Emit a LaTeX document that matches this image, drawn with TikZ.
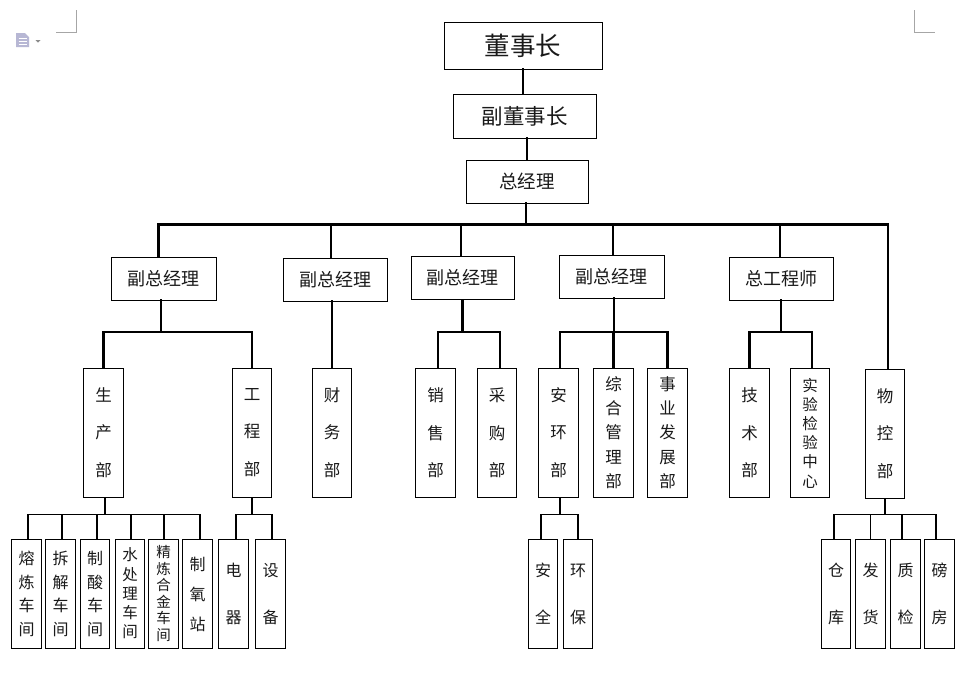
\documentclass[tikz,border=0pt]{standalone}
\usepackage{fontspec}
\setmainfont{Noto Sans CJK SC}
\begin{document}
\begin{tikzpicture}[x=1pt,y=-1pt,
  box/.style={draw, line width=1pt, inner sep=0pt, align=center, text=black!90},
  topbox/.style={box, minimum width=#1, minimum height=43pt, font=\fontsize{18}{18}\selectfont},
  dept/.style={box, minimum width=39.5pt, minimum height=129pt},
  leaf/.style={box, minimum width=29.5pt, minimum height=109pt},
  main/.style={line width=2.3pt, line cap=rect},
  thin/.style={line width=1.3pt, line cap=rect},
  cornermark/.style={draw=black!35, line width=0.8pt}
]
\useasboundingbox (0,0) rectangle (976,673);
\fill[white] (0,0) rectangle (976,673);

% page corner marks and icon
\draw[cornermark] (76,10) -- (76,32) -- (56,32);
\draw[cornermark] (914,10) -- (914,32) -- (935,32);
\fill[blue!25!gray!45] (16,33) -- (25,33) -- (29,37) -- (29,47) -- (16,47) -- cycle;
\draw[white, line width=0.8pt] (18.5,38) -- (26.5,38) (18.5,41) -- (26.5,41) (18.5,44) -- (26.5,44);
\fill[black!45] (35.5,40) -- (40.5,40) -- (38,42.5) -- cycle;

\coordinate (y1) at (0,224.5);
\coordinate (y2) at (0,332);
\coordinate (y3) at (0,514.5);

% top
\node[box, minimum width=158pt, minimum height=47pt, font=\fontsize{25.5}{25.5}\selectfont] (dsz) at (523,45.5) {董事长};
\node[box, minimum width=143pt, minimum height=44pt, font=\fontsize{21.5}{21.5}\selectfont] (fdsz) at (524.5,116) {副董事长};
\node[box, minimum width=122pt, minimum height=43pt, font=\fontsize{18.5}{18.5}\selectfont] (zjl) at (527,181.5) {总经理};

% level 2
\node[topbox=105pt] (v1) at (163.5,278.5) {副总经理};
\node[topbox=104pt] (v2) at (335,279.5) {副总经理};
\node[topbox=103pt] (v3) at (462.5,278) {副总经理};
\node[topbox=105pt] (v4) at (611.5,276.5) {副总经理};
\node[topbox=104pt] (zgc) at (781,278.5) {总工程师};

% departments
\node[dept, font=\fontsize{16.5}{37.5}\selectfont] (scb) at (103.5,432.5) {生\\产\\部};
\node[dept, font=\fontsize{16.5}{37.5}\selectfont] (gcb) at (252,432.5) {工\\程\\部};
\node[dept, font=\fontsize{16.5}{37.5}\selectfont] (cwb) at (332,432.5) {财\\务\\部};
\node[dept, font=\fontsize{16.5}{37.5}\selectfont] (xsb) at (435.5,433) {销\\售\\部};
\node[dept, font=\fontsize{16.5}{37.5}\selectfont] (cgb) at (497,433) {采\\购\\部};
\node[dept, font=\fontsize{16.5}{37.5}\selectfont] (ahb) at (558.5,432.5) {安\\环\\部};
\node[dept, font=\fontsize{16.5}{24.3}\selectfont] (zhb) at (613.5,432.5) {综\\合\\管\\理\\部};
\node[dept, font=\fontsize{16.5}{24.3}\selectfont] (syb) at (667.5,432.5) {事\\业\\发\\展\\部};
\node[dept, font=\fontsize{16.5}{37.5}\selectfont] (jsb) at (749.5,433) {技\\术\\部};
\node[dept, font=\fontsize{15.5}{19.2}\selectfont] (syz) at (810,433) {实\\验\\检\\验\\中\\心};
\node[dept, font=\fontsize{16.5}{37.5}\selectfont] (wkb) at (885,433.5) {物\\控\\部};

% leaves
\node[leaf, font=\fontsize{16}{23.5}\selectfont] (rl) at (26.5,594) {熔\\炼\\车\\间};
\node[leaf, font=\fontsize{16}{23.5}\selectfont] (cj) at (60.5,594) {拆\\解\\车\\间};
\node[leaf, font=\fontsize{16}{23.5}\selectfont] (zs) at (95,594) {制\\酸\\车\\间};
\node[leaf, font=\fontsize{15.5}{19.3}\selectfont] (scl) at (130,593.5) {水\\处\\理\\车\\间};
\node[leaf, font=\fontsize{14.5}{16.6}\selectfont] (jl) at (163.5,593.5) {精\\炼\\合\\金\\车\\间};
\node[leaf, font=\fontsize{16}{30}\selectfont] (zy) at (197.5,594) {制\\氧\\站};
\node[leaf, font=\fontsize{16}{47}\selectfont] (dq) at (233.5,594) {电\\器};
\node[leaf, font=\fontsize{16}{47}\selectfont] (sb) at (270.5,594) {设\\备};
\node[leaf, font=\fontsize{16}{47}\selectfont] (aq) at (543,594) {安\\全};
\node[leaf, font=\fontsize{16}{47}\selectfont] (hb) at (578,594) {环\\保};
\node[leaf, font=\fontsize{16}{47}\selectfont] (ck) at (836,594) {仓\\库};
\node[leaf, font=\fontsize{16}{47}\selectfont] (fh) at (870.5,594) {发\\货};
\node[leaf, font=\fontsize{16}{47}\selectfont] (zj) at (905.5,594) {质\\检};
\node[leaf, font=\fontsize{16}{47}\selectfont] (bf) at (939.5,593.5) {磅\\房};

% top chain
\draw[main] (dsz.south) -- (dsz.south |- fdsz.north);
\draw[main] ([xshift=2.5pt]fdsz.south) -- ([xshift=2.5pt]fdsz.south |- zjl.north);
\draw[main] ([xshift=-1pt]zjl.south) -- ([xshift=-1pt]zjl.south |- y1);

% bus
\draw[main] ([xshift=-5pt]v1.north) -- ([xshift=-5pt]v1.north |- y1) -- ([xshift=3pt]wkb.north |- y1) -- ([xshift=3pt]wkb.north);
\draw[main] ([xshift=-4pt]v2.north |- y1) -- ([xshift=-4pt]v2.north);
\draw[main] ([xshift=-1.5pt]v3.north |- y1) -- ([xshift=-1.5pt]v3.north);
\draw[main] ([xshift=1.5pt]v4.north |- y1) -- ([xshift=1.5pt]v4.north);
\draw[main] ([xshift=-1pt]zgc.north |- y1) -- ([xshift=-1pt]zgc.north);

% level 2 to departments
\draw[main] ([xshift=-2.5pt]v1.south) -- ([xshift=-2.5pt]v1.south |- y2);
\draw[main] (scb.north) -- (scb.north |- y2) -- (gcb.north |- y2) -- (gcb.north);
\draw[main] ([xshift=-3pt]v2.south) -- (cwb.north);
\draw[main] (v3.south) -- (v3.south |- y2);
\draw[main] ([xshift=2.5pt]xsb.north) -- ([xshift=2.5pt]xsb.north |- y2) -- ([xshift=3pt]cgb.north |- y2) -- ([xshift=3pt]cgb.north);
\draw[main] ([xshift=2.5pt]v4.south) -- ([xshift=2.5pt]v4.south |- y2);
\draw[main] ([xshift=1.5pt]ahb.north) -- ([xshift=1.5pt]ahb.north |- y2) -- (syb.north |- y2) -- (syb.north);
\draw[main] (zhb.north) -- (zhb.north |- y2);
\draw[main] (zgc.south) -- (zgc.south |- y2);
\draw[main] (jsb.north) -- (jsb.north |- y2) -- ([xshift=2pt]syz.north |- y2) -- ([xshift=2pt]syz.north);

% departments to leaves
\draw[thin] ([xshift=1.5pt]scb.south) -- ([xshift=1.5pt]scb.south |- y3);
\draw[thin] ([xshift=1.5pt]rl.north) -- ([xshift=1.5pt]rl.north |- y3) -- ([xshift=2.5pt]zy.north |- y3) -- ([xshift=2.5pt]zy.north);
\draw[thin] ([xshift=1.5pt]cj.north) -- ([xshift=1.5pt]cj.north |- y3);
\draw[thin] ([xshift=2pt]zs.north) -- ([xshift=2pt]zs.north |- y3);
\draw[thin] ([xshift=1pt]scl.north) -- ([xshift=1pt]scl.north |- y3);
\draw[thin] ([xshift=0.5pt]jl.north) -- ([xshift=0.5pt]jl.north |- y3);

\draw[thin] (gcb.south) -- (gcb.south |- y3);
\draw[thin] ([xshift=2.5pt]dq.north) -- ([xshift=2.5pt]dq.north |- y3) -- ([xshift=1.5pt]sb.north |- y3) -- ([xshift=1.5pt]sb.north);

\draw[thin] ([xshift=1.5pt]ahb.south) -- ([xshift=1.5pt]ahb.south |- y3);
\draw[thin] ([xshift=-2pt]aq.north) -- ([xshift=-2pt]aq.north |- y3) -- (hb.north |- y3) -- (hb.north);

\draw[thin] (wkb.south) -- (wkb.south |- y3);
\draw[thin] ([xshift=-2pt]ck.north) -- ([xshift=-2pt]ck.north |- y3) -- ([xshift=-3.5pt]bf.north |- y3) -- ([xshift=-3.5pt]bf.north);
\draw[thin] (fh.north) -- (fh.north |- y3);
\draw[thin] ([xshift=-3.5pt]zj.north) -- ([xshift=-3.5pt]zj.north |- y3);
\end{tikzpicture}
\end{document}
